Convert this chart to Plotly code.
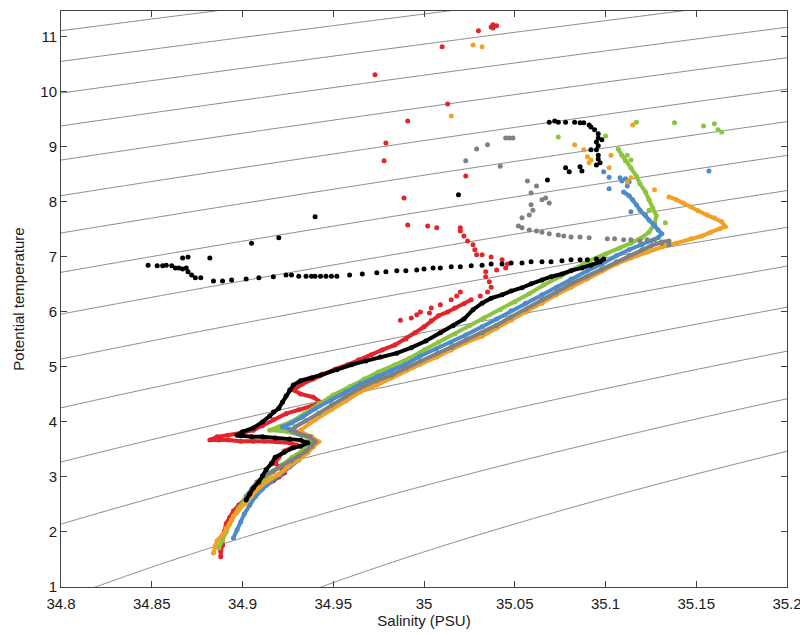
import numpy as np
import plotly.graph_objects as go

# ---------------- axis settings ----------------
x_ticks = [34.8, 34.85, 34.9, 34.95, 35.0, 35.05, 35.1, 35.15, 35.2]
x_tick_labels = ["34.8", "34.85", "34.9", "34.95", "35", "35.05", "35.1", "35.15", "35.2"]
y_ticks = [1, 2, 3, 4, 5, 6, 7, 8, 9, 10, 11]
y_tick_labels = ["1", "2", "3", "4", "5", "6", "7", "8", "9", "10", "11"]

# isopycnal (sigma-theta) levels
sigma_levels = [26.0, 28.0, 0.1]  # start, end, step

# ---------------- data (salinity, potential temperature) ----------------
# RED
red_s_dense = [34.888, 34.888, 34.889, 34.889, 34.890, 34.891, 34.893, 34.895, 34.898, 34.901, 34.903, 34.907,
               34.910, 34.913, 34.917, 34.920, 34.923, 34.921, 34.918, 34.920, 34.923, 34.928, 34.930, 34.926,
               34.919, 34.912, 34.906, 34.899, 34.892, 34.887, 34.882, 34.886, 34.892, 34.899, 34.906, 34.911,
               34.917, 34.924, 34.931, 34.938, 34.943, 34.939, 34.932, 34.928, 34.933, 34.939, 34.944, 34.951,
               34.958, 34.964, 34.971, 34.977, 34.984, 34.990, 34.995, 35.000, 35.004, 35.008, 35.013, 35.017,
               35.022, 35.026]
red_t_dense = [1.55, 1.65, 1.76, 1.89, 2.02, 2.15, 2.27, 2.38, 2.49, 2.58, 2.65, 2.73,
               2.78, 2.85, 2.93, 3.00, 3.07, 3.16, 3.25, 3.36, 3.47, 3.55, 3.58, 3.62,
               3.64, 3.65, 3.65, 3.65, 3.67, 3.67, 3.67, 3.73, 3.76, 3.80, 3.85, 3.93,
               4.04, 4.15, 4.22, 4.29, 4.36, 4.45, 4.51, 4.58, 4.69, 4.78, 4.87, 4.96,
               5.04, 5.13, 5.22, 5.31, 5.40, 5.51, 5.62, 5.73, 5.84, 5.93, 6.00, 6.07,
               6.15, 6.22]
red_s_sparse = [35.031, 35.035, 35.037, 35.036, 35.034, 35.034, 35.040, 35.045, 35.046, 35.043, 35.037, 35.032,
                35.029, 35.028, 35.027, 35.024, 35.022, 35.020, 35.020, 35.007, 35.002, 34.991, 34.989, 35.023,
                34.978, 34.979, 34.991, 35.013, 34.973, 35.010, 35.030, 35.037, 35.038, 35.040, 35.038,
                34.987, 34.993, 34.998, 35.004, 35.009, 35.015, 35.018, 35.020, 34.996, 35.003]
red_t_sparse = [6.29, 6.36, 6.45, 6.55, 6.64, 6.73, 6.76, 6.80, 6.87, 6.95, 7.00, 7.04,
                7.04, 7.13, 7.22, 7.29, 7.38, 7.47, 7.53, 7.53, 7.56, 7.58, 8.07, 8.47,
                8.75, 9.07, 9.47, 9.78, 10.31, 10.82, 11.11, 11.18, 11.22, 11.20, 11.16,
                5.85, 5.89, 6.00, 6.07, 6.13, 6.22, 6.29, 6.36, 5.95, 5.98]

# GREEN
green_s_dense = [34.887, 34.889, 34.891, 34.893, 34.895, 34.898, 34.901, 34.904, 34.908, 34.912, 34.917, 34.922,
                 34.927, 34.932, 34.936, 34.938, 34.934, 34.928, 34.921, 34.915, 34.920, 34.927, 34.934, 34.942,
                 34.950, 34.959, 34.967, 34.975, 34.984, 34.992, 35.000, 35.008, 35.017, 35.025, 35.033, 35.042,
                 35.050, 35.058, 35.066, 35.075, 35.083, 35.091, 35.100, 35.108, 35.114, 35.120, 35.124, 35.127,
                 35.128, 35.126, 35.124, 35.122, 35.119, 35.117, 35.114, 35.111, 35.109, 35.107]
green_t_dense = [1.71, 1.85, 2.00, 2.15, 2.29, 2.44, 2.58, 2.71, 2.84, 2.96, 3.09, 3.22,
                 3.35, 3.45, 3.56, 3.65, 3.75, 3.80, 3.84, 3.85, 3.91, 4.00, 4.15, 4.33,
                 4.49, 4.64, 4.78, 4.91, 5.04, 5.16, 5.31, 5.45, 5.60, 5.75, 5.89, 6.04,
                 6.18, 6.33, 6.49, 6.64, 6.78, 6.93, 7.05, 7.16, 7.25, 7.35, 7.45, 7.60,
                 7.75, 7.89, 8.04, 8.18, 8.33, 8.47, 8.62, 8.75, 8.85, 8.96]
green_s_sparse = [35.117, 35.138, 35.154, 35.160, 35.164, 35.162, 35.100, 35.074, 35.112, 35.124, 35.133, 35.114]
green_t_sparse = [9.45, 9.44, 9.38, 9.42, 9.27, 9.31, 9.20, 9.18, 8.85, 7.85, 7.62, 8.76]

# BLUE
blue_s_dense = [34.895, 34.897, 34.899, 34.901, 34.904, 34.907, 34.911, 34.916, 34.921, 34.926, 34.931, 34.935,
                34.938, 34.940, 34.938, 34.932, 34.926, 34.922, 34.927, 34.933, 34.940, 34.949, 34.957, 34.965,
                34.974, 34.982, 34.990, 34.998, 35.007, 35.015, 35.023, 35.032, 35.040, 35.048, 35.056, 35.065,
                35.073, 35.081, 35.090, 35.098, 35.106, 35.113, 35.120, 35.125, 35.129, 35.131, 35.129, 35.127,
                35.124, 35.122, 35.119, 35.117, 35.115, 35.113, 35.110]
blue_t_dense = [1.89, 2.04, 2.18, 2.33, 2.49, 2.64, 2.78, 2.93, 3.05, 3.18, 3.31, 3.44,
                3.55, 3.64, 3.73, 3.80, 3.87, 3.91, 3.98, 4.09, 4.24, 4.40, 4.55, 4.69,
                4.82, 4.93, 5.05, 5.20, 5.33, 5.45, 5.58, 5.73, 5.87, 6.02, 6.16, 6.31,
                6.45, 6.60, 6.75, 6.87, 7.02, 7.13, 7.22, 7.29, 7.35, 7.42, 7.49, 7.58,
                7.67, 7.76, 7.85, 7.95, 8.04, 8.11, 8.18]
blue_s_sparse = [35.112, 35.109, 35.108, 35.111, 35.113, 35.102, 35.099, 35.102, 35.114, 35.157]
blue_t_sparse = [8.29, 8.38, 8.44, 8.42, 8.36, 8.45, 8.55, 8.24, 7.82, 8.56]

# ORANGE
orange_s_dense = [34.884, 34.885, 34.886, 34.889, 34.891, 34.894, 34.897, 34.901, 34.905, 34.909, 34.914, 34.920,
                  34.925, 34.931, 34.936, 34.939, 34.942, 34.938, 34.933, 34.932, 34.940, 34.949, 34.957, 34.965,
                  34.974, 34.982, 34.990, 34.998, 35.007, 35.015, 35.023, 35.032, 35.040, 35.048, 35.056, 35.065,
                  35.073, 35.081, 35.090, 35.098, 35.106, 35.114, 35.123, 35.131, 35.139, 35.147, 35.153, 35.158,
                  35.163, 35.166, 35.164, 35.160, 35.156, 35.151, 35.147, 35.143, 35.139, 35.135]
orange_t_dense = [1.62, 1.75, 1.84, 1.95, 2.07, 2.22, 2.36, 2.51, 2.65, 2.80, 2.93, 3.05,
                  3.18, 3.31, 3.44, 3.55, 3.64, 3.73, 3.80, 3.85, 4.04, 4.22, 4.38, 4.55,
                  4.67, 4.80, 4.93, 5.05, 5.18, 5.31, 5.44, 5.56, 5.71, 5.85, 6.00, 6.16,
                  6.31, 6.45, 6.60, 6.75, 6.87, 6.98, 7.09, 7.18, 7.25, 7.33, 7.38, 7.45,
                  7.51, 7.55, 7.64, 7.71, 7.76, 7.84, 7.91, 7.98, 8.04, 8.09]
orange_s_sparse = [35.127, 35.114, 35.112, 35.102, 35.103, 35.092, 35.091, 35.090, 35.088, 35.083,
                   35.027, 35.032, 35.015, 35.115]
orange_t_sparse = [8.22, 8.44, 8.36, 8.62, 8.85, 8.76, 8.71, 8.82, 8.95, 9.04,
                   10.85, 10.82, 9.56, 9.40]

# GRAY
gray_s_dense = [34.902, 34.905, 34.908, 34.912, 34.917, 34.922, 34.927, 34.931, 34.935, 34.938, 34.940, 34.937,
                34.931, 34.927, 34.929, 34.935, 34.942, 34.949, 34.957, 34.965, 34.974, 34.982, 34.990, 34.998,
                35.007, 35.015, 35.023, 35.032, 35.040, 35.048, 35.056, 35.065, 35.073, 35.081, 35.090, 35.098,
                35.106, 35.113, 35.120, 35.125, 35.131, 35.135]
gray_t_dense = [2.65, 2.78, 2.91, 3.02, 3.11, 3.20, 3.29, 3.38, 3.47, 3.56, 3.64, 3.73,
                3.78, 3.84, 3.91, 4.02, 4.16, 4.31, 4.47, 4.62, 4.75, 4.85, 4.98, 5.11,
                5.24, 5.36, 5.49, 5.62, 5.76, 5.91, 6.05, 6.22, 6.36, 6.51, 6.65, 6.78,
                6.91, 7.02, 7.13, 7.20, 7.27, 7.29]
gray_s_sparse = [35.135, 35.131, 35.127, 35.123, 35.119, 35.114, 35.110, 35.105, 35.101, 35.091, 35.086, 35.081,
                 35.077, 35.074, 35.069, 35.065, 35.062, 35.058, 35.054, 35.052, 35.054, 35.058, 35.060, 35.059,
                 35.067, 35.069, 35.065, 35.059, 35.062, 35.057, 35.042, 35.023, 35.029, 35.035, 35.045, 35.047,
                 35.049]
gray_t_sparse = [7.22, 7.25, 7.31, 7.31, 7.29, 7.31, 7.31, 7.33, 7.33, 7.35, 7.36, 7.36,
                 7.38, 7.40, 7.42, 7.45, 7.47, 7.49, 7.53, 7.56, 7.71, 7.76, 7.85, 7.95,
                 8.07, 7.98, 8.04, 8.16, 8.29, 8.38, 8.65, 8.75, 8.96, 9.04, 9.16, 9.16,
                 9.16]

# BLACK
black_s_dense = [34.902, 34.904, 34.906, 34.909, 34.911, 34.913, 34.916, 34.918, 34.923, 34.928, 34.932, 34.936,
                 34.932, 34.926, 34.918, 34.911, 34.905, 34.899, 34.897, 34.900, 34.906, 34.911, 34.915, 34.917,
                 34.920, 34.922, 34.924, 34.926, 34.928, 34.932, 34.938, 34.943, 34.952, 34.960, 34.968, 34.976,
                 34.985, 34.993, 35.001, 35.009, 35.016, 35.022, 35.027, 35.032, 35.037, 35.043, 35.048, 35.054,
                 35.059, 35.065, 35.070, 35.076, 35.081, 35.087, 35.092, 35.097, 35.099]
black_t_dense = [2.58, 2.69, 2.80, 2.91, 3.02, 3.13, 3.25, 3.36, 3.45, 3.53, 3.56, 3.62,
                 3.67, 3.69, 3.71, 3.73, 3.73, 3.75, 3.76, 3.82, 3.89, 4.00, 4.11, 4.18,
                 4.25, 4.36, 4.47, 4.58, 4.67, 4.75, 4.80, 4.85, 4.95, 5.04, 5.11, 5.18,
                 5.25, 5.35, 5.47, 5.62, 5.75, 5.87, 6.04, 6.16, 6.25, 6.31, 6.38, 6.44,
                 6.51, 6.58, 6.64, 6.69, 6.75, 6.80, 6.85, 6.91, 6.96]
black_s_sparse = [34.848, 34.853, 34.856, 34.858, 34.861, 34.863, 34.865, 34.867, 34.869, 34.870, 34.872, 34.874,
                  34.877, 34.884, 34.889, 34.894, 34.902, 34.909, 34.917, 34.924, 34.927, 34.931, 34.935, 34.938,
                  34.940, 34.943, 34.946, 34.949, 34.952, 34.959, 34.966, 34.974, 34.979, 34.985, 34.990, 34.996,
                  35.000, 35.005, 35.009, 35.015, 35.020, 35.026, 35.032, 35.037, 35.043, 35.048, 35.054, 35.059,
                  35.065, 35.070, 35.076, 35.081, 35.086, 35.090, 35.095,
                  34.867, 34.870, 34.882, 34.905, 34.920, 34.940, 35.019, 35.068, 35.078, 35.080, 35.086, 35.087,
                  35.092, 35.069, 35.072, 35.074, 35.078, 35.083, 35.086, 35.088, 35.091, 35.092, 35.094, 35.096,
                  35.096, 35.095, 35.096, 35.095, 35.096, 35.096, 35.097, 35.095, 35.098]
black_t_sparse = [6.85, 6.84, 6.84, 6.85, 6.84, 6.80, 6.80, 6.78, 6.80, 6.73, 6.67, 6.62,
                  6.62, 6.56, 6.56, 6.58, 6.60, 6.62, 6.64, 6.67, 6.67, 6.65, 6.65, 6.65,
                  6.65, 6.65, 6.65, 6.65, 6.65, 6.67, 6.69, 6.71, 6.73, 6.75, 6.75, 6.76,
                  6.78, 6.80, 6.80, 6.82, 6.82, 6.84, 6.85, 6.87, 6.87, 6.89, 6.89, 6.91,
                  6.91, 6.91, 6.93, 6.95, 6.95, 6.95, 6.96,
                  6.98, 7.00, 6.98, 7.25, 7.35, 7.73, 8.13, 8.40, 8.62, 8.55, 8.64, 8.56,
                  8.95, 9.45, 9.47, 9.45, 9.45, 9.45, 9.44, 9.44, 9.40, 9.36, 9.31, 9.24,
                  9.16, 9.09, 9.02, 8.95, 8.85, 8.78, 8.71, 8.67, 9.13]

series = [
    ("red", "#e3242b", red_s_dense, red_t_dense, red_s_sparse, red_t_sparse),
    ("green", "#8cc43f", green_s_dense, green_t_dense, green_s_sparse, green_t_sparse),
    ("blue", "#4a8ccc", blue_s_dense, blue_t_dense, blue_s_sparse, blue_t_sparse),
    ("orange", "#f3a024", orange_s_dense, orange_t_dense, orange_s_sparse, orange_t_sparse),
    ("gray", "#808080", gray_s_dense, gray_t_dense, gray_s_sparse, gray_t_sparse),
    ("black", "#000000", black_s_dense, black_t_dense, black_s_sparse, black_t_sparse),
]


# ---------------- density field (UNESCO EOS-80, surface) ----------------
def sigma_theta(S, T):
    rw = (999.842594 + 6.793952e-2 * T - 9.095290e-3 * T**2 + 1.001685e-4 * T**3
          - 1.120083e-6 * T**4 + 6.536332e-9 * T**5)
    A = 8.24493e-1 - 4.0899e-3 * T + 7.6438e-5 * T**2 - 8.2467e-7 * T**3 + 5.3875e-9 * T**4
    B = -5.72466e-3 + 1.0227e-4 * T - 1.6546e-6 * T**2
    C = 4.8314e-4
    return rw + A * S + B * S**1.5 + C * S**2 - 1000.0


s_grid = np.linspace(34.78, 35.22, 89)
t_grid = np.linspace(0.8, 11.8, 221)
SS, TT = np.meshgrid(s_grid, t_grid)
Z = sigma_theta(SS, TT)

fig = go.Figure()
fig.add_trace(go.Contour(
    x=s_grid, y=t_grid, z=Z,
    contours=dict(coloring="lines", start=sigma_levels[0], end=sigma_levels[1],
                  size=sigma_levels[2], showlabels=False),
    colorscale=[[0, "#8a8a8a"], [1, "#8a8a8a"]],
    line=dict(width=1),
    showscale=False, hoverinfo="skip",
))

for name, color, sd, td, ss, ts in series:
    fig.add_trace(go.Scatter(
        x=sd, y=td, mode="lines+markers", name=name,
        line=dict(color=color, width=4),
        marker=dict(color=color, size=5),
        showlegend=False,
    ))
    fig.add_trace(go.Scatter(
        x=ss, y=ts, mode="markers", name=name,
        marker=dict(color=color, size=5),
        showlegend=False,
    ))

axis_common = dict(
    showline=True, linecolor="#444444", linewidth=1, mirror="ticks",
    ticks="inside", ticklen=6, tickcolor="#444444", showgrid=False, zeroline=False,
    tickfont=dict(family="Liberation Sans, Arial, sans-serif", size=15, color="#1a1a1a"),
)
fig.update_xaxes(range=[34.8, 35.2], tickvals=x_ticks, ticktext=x_tick_labels,
                 ticklabelstandoff=3,
                 title=dict(text="Salinity (PSU)", standoff=2,
                            font=dict(family="Liberation Sans, Arial, sans-serif", size=15, color="#1a1a1a")),
                 **axis_common)
fig.update_yaxes(range=[1, 11.47], tickvals=y_ticks, ticktext=y_tick_labels,
                 title=dict(text="Potential temperature", standoff=12,
                            font=dict(family="Liberation Sans, Arial, sans-serif", size=15, color="#1a1a1a")),
                 **axis_common)
# page has an 8px body margin: figure is 800x627 so it fits the 808x635 window
fig.update_layout(
    width=800, height=627,
    margin=dict(l=53, r=21, t=3, b=48),
    plot_bgcolor="white", paper_bgcolor="white",
    showlegend=False,
)
fig.write_html("out.html")
